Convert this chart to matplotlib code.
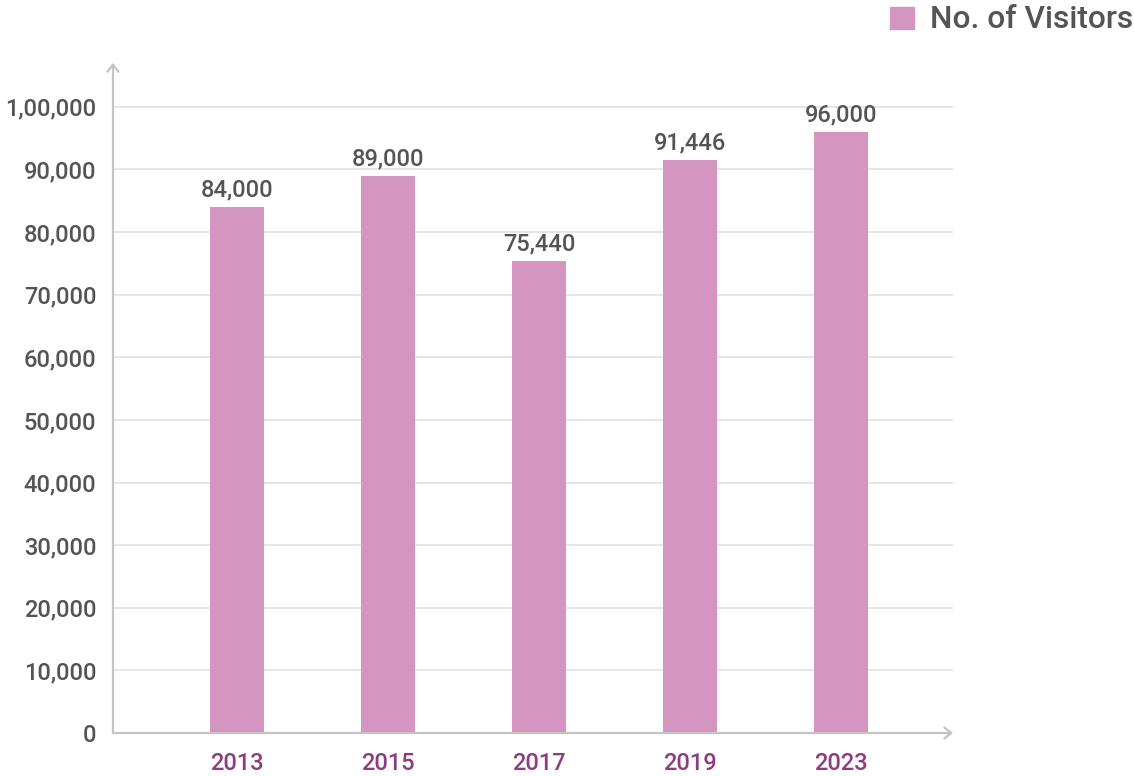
import matplotlib.pyplot as plt
from matplotlib import font_manager as fm
from matplotlib.patches import Rectangle

# data
years = ["2013", "2015", "2017", "2019", "2023"]
visitors = [84000, 89000, 75440, 91446, 96000]
value_labels = ["84,000", "89,000", "75,440", "91,446", "96,000"]
y_ticks = [0, 10000, 20000, 30000, 40000, 50000, 60000, 70000, 80000, 90000, 100000]
y_tick_labels = ["0", "10,000", "20,000", "30,000", "40,000", "50,000",
                 "60,000", "70,000", "80,000", "90,000", "1,00,000"]

BAR_COLOR = "#d495c0"
TEXT_COLOR = "#545454"
YEAR_COLOR = "#8e3b80"
AXIS_COLOR = "#c4c4c4"
GRID_COLOR = "#e4e4e4"

plt.rcParams["font.family"] = ["Roboto", "DejaVu Sans"]

# use Roboto Medium file directly if present
medium = [f.fname for f in fm.fontManager.ttflist if f.fname.endswith("Roboto-Medium.ttf")]
if medium:
    def font(size):
        return fm.FontProperties(fname=medium[0], size=size)
else:
    def font(size):
        return fm.FontProperties(family="Roboto", weight="medium", size=size)

fig = plt.figure(figsize=(11.34, 7.76), dpi=100)
ax = fig.add_axes([0.0996, 0.0554, 0.7408, 0.8634])

x = list(range(len(years)))
bars = ax.bar(x, visitors, width=0.358, color=BAR_COLOR, zorder=3)

ax.set_xlim(-0.821, 4.742)
ax.set_ylim(0, 107000)

ax.set_yticks(y_ticks)
ax.set_yticklabels(y_tick_labels)
ax.set_xticks(x)
ax.set_xticklabels(years)

for t in ax.get_yticklabels():
    t.set_fontproperties(font(17))
    t.set_color(TEXT_COLOR)
for t in ax.get_xticklabels():
    t.set_fontproperties(font(17))
    t.set_color(YEAR_COLOR)

ax.tick_params(axis="y", length=0, pad=12)
ax.tick_params(axis="x", length=0, pad=14)

# horizontal gridlines (not at zero)
for v in y_ticks[1:]:
    ax.axhline(v, color=GRID_COLOR, lw=1.3, zorder=1)

for side in ["top", "right", "left", "bottom"]:
    ax.spines[side].set_visible(False)

# axis lines with open arrow heads
ax.annotate("", xy=(0, 1), xytext=(0, 0), xycoords="axes fraction",
            arrowprops=dict(arrowstyle="->,head_length=0.5,head_width=0.4",
                            color=AXIS_COLOR, lw=1.6, shrinkA=0, shrinkB=0))
ax.annotate("", xy=(1, 0), xytext=(0, 0), xycoords="axes fraction",
            arrowprops=dict(arrowstyle="->,head_length=0.5,head_width=0.4",
                            color=AXIS_COLOR, lw=1.6, shrinkA=0, shrinkB=0))

labels = ax.bar_label(bars, labels=value_labels, padding=4, color=TEXT_COLOR)
for t in labels:
    t.set_fontproperties(font(17))

# legend in the top right corner
fig.patches.append(Rectangle((890 / 1134, 1 - 29 / 776), 24 / 1134, 22 / 776,
                             transform=fig.transFigure, color=BAR_COLOR))
fig.text(930 / 1134, 1 - 19 / 776, "No. of Visitors", fontproperties=font(22.8),
         color=TEXT_COLOR, va="center", ha="left")

fig.savefig("out.png", dpi=100)
